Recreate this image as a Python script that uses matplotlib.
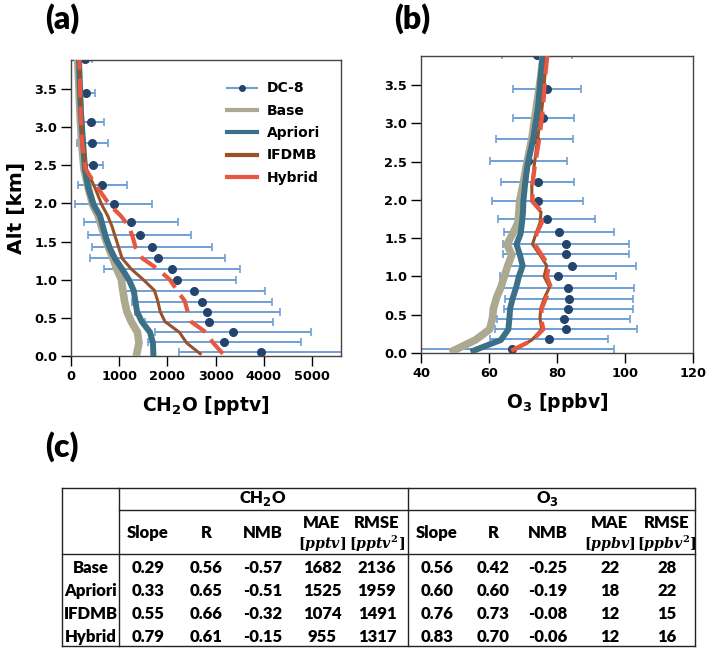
import matplotlib
matplotlib.use("Agg")
import matplotlib.pyplot as plt
from matplotlib.lines import Line2D

plt.rcParams['font.family'] = 'DejaVu Sans'
plt.rcParams['font.weight'] = 'bold'

# --- DC-8 observations (mean +/- std per altitude bin) ---
obs_alt = [0.05, 0.18, 0.31, 0.45, 0.58, 0.71, 0.85, 1.00, 1.14, 1.29,
           1.43, 1.58, 1.75, 1.99, 2.24, 2.51, 2.79, 3.07, 3.45, 3.89]
ch2o_obs = [3951, 3181, 3361, 2861, 2826, 2715, 2542, 2208, 2090, 1799,
            1681, 1424, 1243, 882, 653, 466, 445, 424, 320, 290]
ch2o_std = [1715, 1580, 1615, 1335, 1505, 1460, 1480, 1210, 1405, 1405,
            1250, 1070, 970, 800, 515, 205, 320, 255, 170, 150]
o3_obs = [66.7, 77.7, 82.7, 82.0, 83.3, 83.5, 83.3, 80.2, 84.5, 82.6,
          82.6, 80.7, 77.0, 74.3, 74.3, 71.6, 73.5, 76.0, 77.2, 74.0]
o3_std = [30.2, 17.3, 20.8, 19.6, 19.0, 18.8, 19.4, 17.1, 18.8, 18.6,
          18.5, 16.2, 14.3, 13.4, 10.8, 11.4, 11.3, 9.0, 10.0, 10.3]

# --- model profiles ---
mod_alt = [0.03, 0.17, 0.31, 0.45, 0.58, 0.72, 0.86, 1.00, 1.14, 1.28, 1.42,
           1.56, 1.70, 1.84, 1.98, 2.20, 2.45, 2.80, 3.20, 3.60, 3.90]
ch2o_base = [1365, 1410, 1380, 1250, 1160, 1110, 1075, 1045, 950, 870, 780,
             700, 630, 565, 450, 360, 270, 220, 185, 160, 140]
ch2o_apriori = [1708, 1700, 1640, 1470, 1370, 1335, 1300, 1200, 1060, 910, 800,
                720, 660, 600, 470, 360, 290, 250, 205, 180, 165]
ch2o_ifdmb = [2680, 2400, 2250, 1950, 1850, 1800, 1730, 1500, 1250, 1060, 990,
              920, 850, 760, 640, 500, 320, 250, 210, 190, 180]
ch2o_hybrid = [3150, 2950, 2800, 2490, 2420, 2360, 2200, 2050, 1800, 1480, 1340,
               1280, 1200, 1030, 800, 560, 300, 230, 200, 185, 170]
o3_base = [49.5, 56.0, 60.2, 61.0, 61.3, 62.2, 63.5, 64.5, 65.5, 66.7, 65.3,
           67.0, 68.5, 68.8, 69.0, 70.0, 71.0, 72.6, 73.9, 75.2, 76.0]
o3_apriori = [55.4, 63.5, 65.7, 66.0, 66.2, 67.0, 68.0, 68.8, 69.9, 69.1, 68.1,
              69.3, 69.7, 70.0, 70.1, 70.6, 71.3, 73.0, 74.4, 75.2, 75.8]
o3_ifdmb = [67.2, 72.6, 75.5, 75.0, 75.2, 76.3, 77.8, 76.2, 77.0, 75.0, 72.8,
            73.8, 75.0, 75.3, 72.6, 72.6, 73.3, 74.3, 75.6, 76.4, 77.0]
o3_hybrid = [66.5, 72.8, 76.0, 75.3, 75.5, 76.8, 78.2, 77.0, 77.6, 75.5, 73.5,
             74.0, 75.5, 75.6, 72.8, 72.8, 73.5, 74.8, 75.9, 76.5, 77.2]

# --- table (c) ---
runs = ['Base', 'Apriori', 'IFDMB', 'Hybrid']
stat_cols = ['Slope', 'R', 'NMB']
ch2o_table = [['0.29', '0.56', '-0.57', '1682', '2136'],
              ['0.33', '0.65', '-0.51', '1525', '1959'],
              ['0.55', '0.66', '-0.32', '1074', '1491'],
              ['0.79', '0.61', '-0.15', '955', '1317']]
o3_table = [['0.56', '0.42', '-0.25', '22', '28'],
            ['0.60', '0.60', '-0.19', '18', '22'],
            ['0.76', '0.73', '-0.08', '12', '15'],
            ['0.83', '0.70', '-0.06', '12', '16']]

# --- styles ---
c_base = '#aba98f'
c_apriori = '#3c6f88'
c_ifdmb = '#9a5226'
c_hybrid = '#e8573f'
c_err = '#6e9fd6'
c_dot = '#23446c'

W, H = 709, 648
fig = plt.figure(figsize=(W / 100, H / 100), dpi=100)


def fx(x):
    return x / W


def fy(y):
    return 1 - y / H


ax1 = fig.add_axes([fx(71), fy(356), 270 / W, 296 / H])
ax2 = fig.add_axes([fx(421), fy(353), 272 / W, 297 / H])


def draw_panel(ax, obs, std, base, apriori, ifdmb, hybrid):
    ax.errorbar(obs, obs_alt, xerr=std, fmt='o', color=c_dot, ms=5.5,
                ecolor=c_err, elinewidth=1.4, capsize=3, capthick=1.2,
                zorder=2)
    ax.plot(base, mod_alt, color=c_base, lw=5.5, zorder=3, solid_joinstyle='round')
    ax.plot(apriori, mod_alt, color=c_apriori, lw=4.3, zorder=4, solid_joinstyle='round')
    ax.plot(ifdmb, mod_alt, color=c_ifdmb, lw=2.2, zorder=5, solid_joinstyle='round')
    ax.plot(hybrid, mod_alt, color=c_hybrid, lw=3.0, zorder=6, dashes=(4.5, 2.2))
    ax.set_ylim(0, 3.88)
    ax.set_yticks([0, 0.5, 1.0, 1.5, 2.0, 2.5, 3.0, 3.5])
    ax.tick_params(direction='out', length=7, width=1, labelsize=9.3, pad=3)
    for s in ax.spines.values():
        s.set_color('#444444')
        s.set_linewidth(1.0)
    for lab in ax.get_xticklabels() + ax.get_yticklabels():
        lab.set_fontweight('bold')


draw_panel(ax1, ch2o_obs, ch2o_std, ch2o_base, ch2o_apriori, ch2o_ifdmb, ch2o_hybrid)
ax1.set_xlim(0, 5600)
ax1.set_xticks([0, 1000, 2000, 3000, 4000, 5000])
ax1.set_xlabel(r'CH$_2$O [pptv]', fontsize=13.5, fontweight='bold', labelpad=8)
ax1.set_ylabel('Alt [km]', fontsize=14.5, fontweight='bold', labelpad=6)

draw_panel(ax2, o3_obs, o3_std, o3_base, o3_apriori, o3_ifdmb, o3_hybrid)
ax2.set_xlim(40, 120)
ax2.set_xticks([40, 60, 80, 100, 120])
ax2.set_xlabel(r'O$_3$ [ppbv]', fontsize=13.5, fontweight='bold', labelpad=8)

handles = [Line2D([], [], color=c_err, lw=1.5, marker='o', ms=4,
                  mfc=c_dot, mec=c_dot),
           Line2D([], [], color=c_base, lw=3),
           Line2D([], [], color=c_apriori, lw=3),
           Line2D([], [], color=c_ifdmb, lw=3),
           Line2D([], [], color=c_hybrid, lw=3)]
ax1.legend(handles, ['DC-8', 'Base', 'Apriori', 'IFDMB', 'Hybrid'],
           loc='upper left', bbox_to_anchor=(0.53, 0.97), frameon=False,
           prop={'weight': 'bold', 'size': 10}, handlelength=2.2,
           handletextpad=0.7, labelspacing=0.6)

# panel labels
for txt, x, y in [('(a)', 62, 19), ('(b)', 412, 19), ('(c)', 62, 447)]:
    fig.text(fx(x), fy(y), txt, fontsize=23, fontweight=800, family='Lato',
             ha='center', va='center')

# --- table (c) ---
def hline(x0, x1, y):
    fig.add_artist(Line2D([fx(x0), fx(x1)], [fy(y), fy(y)], color='#222222', lw=1.0))


def vline(x, y0, y1):
    fig.add_artist(Line2D([fx(x), fx(x)], [fy(y0), fy(y1)], color='#222222', lw=1.0))


tl, tr, tt, tb = 62, 695, 488, 646
hline(tl, tr, tt)
hline(tl, tr, tb)
vline(tl, tt, tb)
vline(tr, tt, tb)
vline(119, tt, tb)
vline(408, tt, tb)
hline(119, tr, 510)
hline(tl, tr, 554)

tkw = dict(family='Lato', fontweight=800, fontsize=12, ha='center', va='center')
ukw = dict(fontsize=10.2, math_fontfamily='dejavuserif', ha='center', va='center')
ch2o_x = [148, 206, 263, 322, 377]
o3_x = [437, 493, 548, 610, 667]
row_y = [568, 591, 614, 637]

fig.text(fx(263), fy(499), r'CH$_2$O', **tkw)
fig.text(fx(547), fy(499), r'O$_3$', **tkw)
for xs, unit in [(ch2o_x, 'pptv'), (o3_x, 'ppbv')]:
    for x, name in zip(xs[:3], stat_cols):
        fig.text(fx(x), fy(533), name, **tkw)
    fig.text(fx(xs[3]), fy(523), 'MAE', **tkw)
    fig.text(fx(xs[4]), fy(523), 'RMSE', **tkw)
    fig.text(fx(xs[3]), fy(544), r'$[\mathit{%s}]$' % unit, **ukw)
    fig.text(fx(xs[4]), fy(544), r'$[\mathit{%s}^2]$' % unit, **ukw)

for i, run in enumerate(runs):
    fig.text(fx(91), fy(row_y[i]), run, **tkw)
    for x, v in zip(ch2o_x, ch2o_table[i]):
        fig.text(fx(x), fy(row_y[i]), v, **tkw)
    for x, v in zip(o3_x, o3_table[i]):
        fig.text(fx(x), fy(row_y[i]), v, **tkw)

fig.savefig('out.png', dpi=100)
